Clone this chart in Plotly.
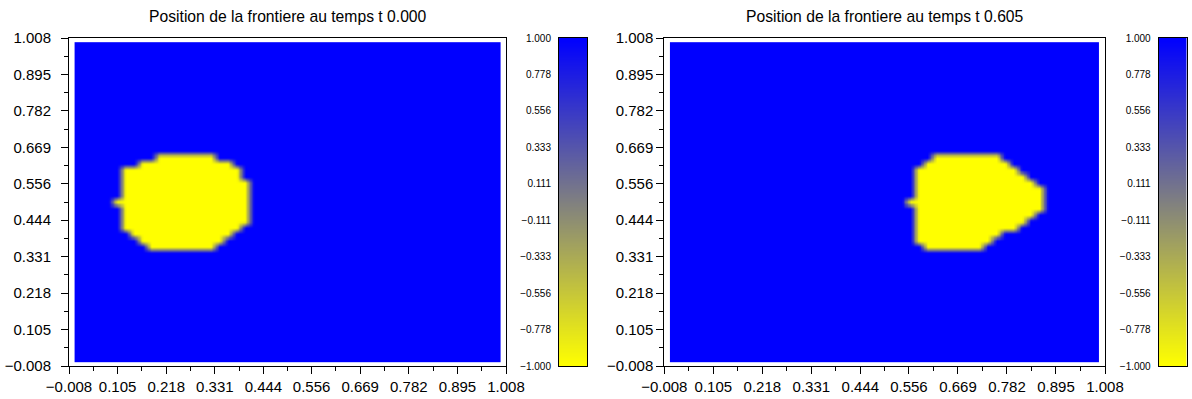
import numpy as np
import plotly.graph_objects as go

# ---------------- data ----------------
time_labels = ["0.000", "0.605"]
axis_ticks = [-0.008, 0.105, 0.218, 0.331, 0.444, 0.556, 0.669, 0.782, 0.895, 1.008]
cbar_ticks = [1.000, 0.778, 0.556, 0.333, 0.111, -0.111, -0.333, -0.556, -0.778, -1.000]
phi_inside = -1.0
phi_outside = 1.0

# boundary (phi = 0 contour) of the yellow region at t = 0.000
blob0_x = [0.2075, 0.320, 0.351, 0.374, 0.394, 0.405, 0.411, 0.411, 0.397, 0.374, 0.343, 0.320,
           0.196, 0.165, 0.142, 0.118, 0.111, 0.111, 0.091, 0.111, 0.111, 0.118, 0.142, 0.180]
blob0_y = [0.649, 0.649, 0.630, 0.609, 0.589, 0.558, 0.537, 0.450, 0.424, 0.398, 0.372, 0.351,
           0.351, 0.372, 0.392, 0.418, 0.444, 0.491, 0.500, 0.508, 0.568, 0.594, 0.618, 0.635]

# boundary of the yellow region at t = 0.605
blob1_x = [0.620, 0.735, 0.766, 0.797, 0.820, 0.839, 0.850, 0.864, 0.864, 0.850, 0.835, 0.820,
           0.797, 0.773, 0.743, 0.720, 0.697, 0.604, 0.589, 0.574, 0.565, 0.562, 0.562, 0.547,
           0.562, 0.562, 0.570, 0.589, 0.612]
blob1_y = [0.649, 0.649, 0.635, 0.614, 0.594, 0.573, 0.558, 0.553, 0.470, 0.460, 0.444, 0.434,
           0.418, 0.398, 0.377, 0.361, 0.351, 0.351, 0.367, 0.387, 0.413, 0.429, 0.493, 0.500,
           0.508, 0.579, 0.598, 0.625, 0.646]

# nodes of the level-set mesh
node_count = 51
node_lo, node_hi = 0.005, 0.995

# ---------------- build the fields ----------------
nodes = np.linspace(node_lo, node_hi, node_count)
NX, NY = np.meshgrid(nodes, nodes)


def inside(px, py, vx, vy):
    vx = np.asarray(vx, float)
    vy = np.asarray(vy, float)
    res = np.zeros(px.shape, bool)
    j = len(vx) - 1
    with np.errstate(divide="ignore", invalid="ignore"):
        for i in range(len(vx)):
            xi, yi, xj, yj = vx[i], vy[i], vx[j], vy[j]
            cross = (yi > py) != (yj > py)
            xint = (xj - xi) * (py - yi) / (yj - yi) + xi
            res ^= cross & (px < xint)
            j = i
    return res


# display raster: bilinear interpolation of the nodal field (as the original renderer)
disp_n = 300
dstep = (node_hi - node_lo) / disp_n
dc = node_lo + dstep * (np.arange(disp_n) + 0.5)


def bilinear(field):
    rows = np.array([np.interp(dc, nodes, r) for r in field])          # along x
    cols = np.array([np.interp(dc, nodes, c) for c in rows.T]).T      # along y
    return cols


fields = []
for bx, by in [(blob0_x, blob0_y), (blob1_x, blob1_y)]:
    nodal = np.where(inside(NX, NY, bx, by), phi_inside, phi_outside)
    fields.append(bilinear(nodal))

colorscale = [[0.0, "#ffff00"], [0.5, "#808080"], [1.0, "#0000ff"]]


def fmt(v):
    return f"{v:.3f}".replace("-", "\u2212")


mids = [(a + b) / 2 for a, b in zip(axis_ticks[:-1], axis_ticks[1:])]

W, H = 1192, 399
main_x_domains = [[69 / W, 506 / W], [664.3 / W, 1105 / W]]
cb_x_domains = [[559 / W, 587 / W], [1158.7 / W, 1186.7 / W]]
y_domain = [1 - 366 / H, 1 - 38 / H]
ylabel_standoff = [7, 0]

FONT = "Liberation Sans, Arial, Helvetica, sans-serif"

fig = go.Figure()
layout = dict(
    template="none",
    width=W, height=H, autosize=False,
    margin=dict(l=0, r=0, t=0, b=0, pad=0),
    paper_bgcolor="white", plot_bgcolor="white",
    font=dict(family=FONT, color="black"),
    showlegend=False,
)

annotations = []
for k in range(2):
    mx = "x" if k == 0 else f"x{2 * k + 1}"
    my = "y" if k == 0 else f"y{2 * k + 1}"
    cx = f"x{2 * k + 2}"
    cy = f"y{2 * k + 2}"
    fig.add_trace(go.Heatmap(
        x=dc, y=dc, z=fields[k], colorscale=colorscale, zmin=-1, zmax=1,
        zsmooth="best", showscale=False, xaxis=mx, yaxis=my, hoverinfo="skip"))
    fig.add_trace(go.Heatmap(
        x=[0, 1], y=[-1, 1], z=[[-1, -1], [1, 1]], colorscale=colorscale,
        zmin=-1, zmax=1, zsmooth="best", showscale=False,
        xaxis=cx, yaxis=cy, hoverinfo="skip"))

    main_axis = dict(
        range=[-0.008, 1.008], tickmode="array", tickvals=axis_ticks,
        ticktext=[fmt(v) for v in axis_ticks], ticks="outside", ticklen=7,
        tickwidth=1, tickcolor="black", showline=True, linecolor="black",
        linewidth=1, mirror=True, showgrid=False, zeroline=False,
        automargin=False,
        tickfont=dict(size=15, color="black", family=FONT),
        minor=dict(tickmode="array", tickvals=mids, ticks="outside", ticklen=4,
                   tickwidth=1, tickcolor="black", showgrid=False),
    )
    xkey = "xaxis" if k == 0 else f"xaxis{2 * k + 1}"
    ykey = "yaxis" if k == 0 else f"yaxis{2 * k + 1}"
    layout[xkey] = dict(main_axis, domain=main_x_domains[k], anchor=my)
    layout[ykey] = dict(main_axis, domain=y_domain, anchor=mx,
                        ticklabelstandoff=ylabel_standoff[k])

    layout[f"xaxis{2 * k + 2}"] = dict(
        domain=cb_x_domains[k], anchor=cy, range=[0, 1], showticklabels=False,
        ticks="", showline=True, linecolor="black", linewidth=1, mirror=True,
        showgrid=False, zeroline=False, automargin=False)
    layout[f"yaxis{2 * k + 2}"] = dict(
        domain=y_domain, anchor=cx, range=[-1, 1], side="left", tickmode="array",
        tickvals=cbar_ticks, ticktext=[fmt(v) for v in cbar_ticks], ticks="",
        ticklabelstandoff=5, automargin=False,
        showline=True, linecolor="black", linewidth=1, mirror=True,
        showgrid=False, zeroline=False,
        tickfont=dict(size=10, color="black", family=FONT))

    annotations.append(dict(
        text=f"Position de la frontiere au temps t {time_labels[k]}",
        x=sum(main_x_domains[k]) / 2, y=1 - 16 / H, xref="paper", yref="paper",
        xanchor="center", yanchor="middle", showarrow=False,
        font=dict(size=15.7, color="black", family=FONT)))

layout["annotations"] = annotations
fig.update_layout(**layout)

fig.write_html("out.html", config={"displayModeBar": False},
               post_script="document.body.style.margin='0px';")
